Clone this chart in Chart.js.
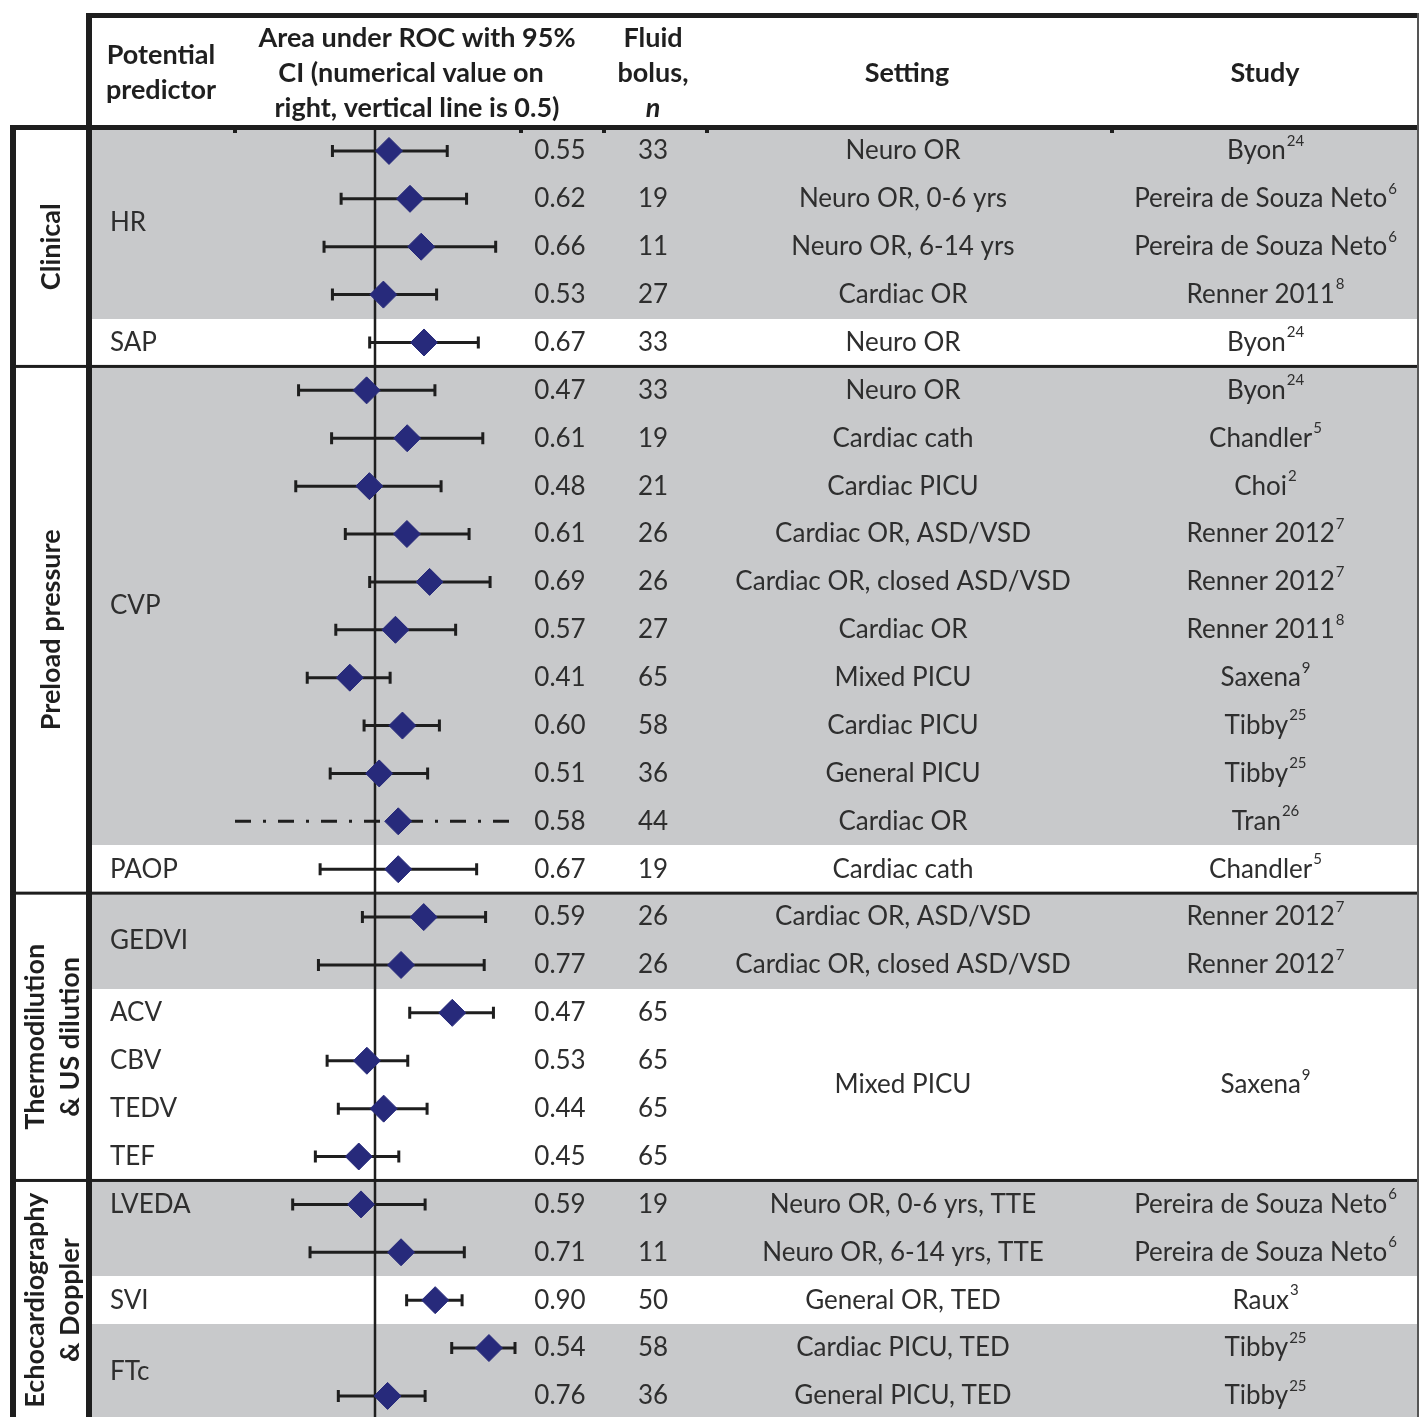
<!DOCTYPE html>
<html><head><meta charset="utf-8">
<script src="https://cdn.jsdelivr.net/npm/chart.js@4/dist/chart.umd.min.js"></script>
<style>html,body{margin:0;padding:0;background:#fff}canvas{display:block}</style>
</head><body>
<canvas id="c" width="1419" height="1417"></canvas>
<script>
// ---------------- DATA ----------------
const predictors = ['HR','HR','HR','HR','SAP',
  'CVP','CVP','CVP','CVP','CVP','CVP','CVP','CVP','CVP','CVP','PAOP',
  'GEDVI','GEDVI','ACV','CBV','TEDV','TEF',
  'LVEDA','LVEDA','SVI','FTc','FTc'];
// plotted AUC (diamond) and 95% CI
const aucPoint = [0.55,0.625,0.665,0.53,0.675,
  0.47,0.615,0.48,0.614,0.695,0.573,0.41,0.598,0.515,0.583,0.583,
  0.674,0.593,0.776,0.471,0.531,0.442,
  0.45,0.593,0.715,0.907,0.545];
const ciLow = [0.348,0.379,0.318,0.348,0.481,
  0.227,0.345,0.217,0.394,0.481,0.36,0.258,0.461,0.34,0.0,0.304,
  0.455,0.298,0.624,0.329,0.369,0.287,
  0.206,0.268,0.613,0.774,0.369];
const ciHigh = [0.758,0.827,0.931,0.72,0.869,
  0.714,0.885,0.736,0.836,0.911,0.788,0.554,0.73,0.688,0.985,0.863,
  0.895,0.89,0.923,0.617,0.686,0.585,
  0.679,0.819,0.811,1.0,0.679];
const ciNotReported = [false,false,false,false,false,
  false,false,false,false,false,false,false,false,false,true,false,
  false,false,false,false,false,false,
  false,false,false,false,false];
// numerical values printed on the right
const aucLabels = ['0.55','0.62','0.66','0.53','0.67',
  '0.47','0.61','0.48','0.61','0.69','0.57','0.41','0.60','0.51','0.58','0.67',
  '0.59','0.77','0.47','0.53','0.44','0.45',
  '0.59','0.71','0.90','0.54','0.76'];
const bolusN = [33,19,11,27,33,
  33,19,21,26,26,27,65,58,36,44,19,
  26,26,65,65,65,65,
  19,11,50,58,36];
const settings = ['Neuro OR','Neuro OR, 0-6 yrs','Neuro OR, 6-14 yrs','Cardiac OR','Neuro OR',
  'Neuro OR','Cardiac cath','Cardiac PICU','Cardiac OR, ASD/VSD','Cardiac OR, closed ASD/VSD','Cardiac OR','Mixed PICU','Cardiac PICU','General PICU','Cardiac OR','Cardiac cath',
  'Cardiac OR, ASD/VSD','Cardiac OR, closed ASD/VSD','Mixed PICU','Mixed PICU','Mixed PICU','Mixed PICU',
  'Neuro OR, 0-6 yrs, TTE','Neuro OR, 6-14 yrs, TTE','General OR, TED','Cardiac PICU, TED','General PICU, TED'];
const studyNames = ['Byon','Pereira de Souza Neto','Pereira de Souza Neto','Renner 2011','Byon',
  'Byon','Chandler','Choi','Renner 2012','Renner 2012','Renner 2011','Saxena','Tibby','Tibby','Tran','Chandler',
  'Renner 2012','Renner 2012','Saxena','Saxena','Saxena','Saxena',
  'Pereira de Souza Neto','Pereira de Souza Neto','Raux','Tibby','Tibby'];
const studyRefs = ['24','6','6','8','24',
  '24','5','2','7','7','8','9','25','25','26','5',
  '7','7','9','9','9','9',
  '6','6','3','25','25'];
const mergedRows = [[18,21]];           // setting/study cells merged
const groupLabels = [['Clinical'],['Preload pressure'],['Thermodilution','& US dilution'],['Echocardiography','& Doppler']];
const groupRowCounts = [5,11,6,5];
const headerPredictor = ['Potential','predictor'];
const headerAuc = ['Area under ROC with 95%','CI (numerical value on','right, vertical line is 0.5)'];
const headerBolus = ['Fluid','bolus,','n'];
const headerSetting = 'Setting';
const headerStudy = 'Study';
const referenceValue = 0.5;

// ---------------- STYLE ----------------
const shadedPredictors = ['HR','CVP','GEDVI','LVEDA','FTc'];
const labelAtFirstRow = ['LVEDA'];
const FONT = 'Lato, "Open Sans", sans-serif';
const BAND = '#c8c9cb';
const INK = '#1e1e1e';
const TXT = '#2e2e2e';
const HEAD = '#1f1f1f';
const DIAMOND = '#272a7b';

const tablePlugin = {
  id: 'table',
  beforeDatasetsDraw(chart) {
    const ctx = chart.ctx;
    const xs = chart.scales.x, ys = chart.scales.y;
    const W = chart.width, H = chart.height;
    const yp = v => ys.getPixelForValue(v);
    const n = predictors.length;
    ctx.save();
    ctx.fillStyle = '#fff';
    ctx.fillRect(0, 0, W, H);
    // bands
    ctx.fillStyle = BAND;
    for (let i = 0; i < n; i++) {
      if (shadedPredictors.includes(predictors[i])) {
        const t = Math.round(yp(i - 0.5)), b = Math.round(yp(i + 0.5));
        ctx.fillRect(92, t, W - 92, b - t);
      }
    }
    const text = (s, x, y, font, align, color) => {
      ctx.font = font; ctx.textAlign = align || 'left'; ctx.textBaseline = 'middle';
      ctx.fillStyle = color || TXT; ctx.fillText(s, x, y);
    };
    const bodyFont = '26px ' + FONT;
    const boldFont = 'bold 27px ' + FONT;
    const supFont = '15px ' + FONT;
    // predictor labels
    let s = 0;
    while (s < n) {
      let e = s;
      while (e + 1 < n && predictors[e + 1] === predictors[s]) e++;
      const r = labelAtFirstRow.includes(predictors[s]) ? s : (s + e) / 2;
      text(predictors[s], 110, yp(r), bodyFont);
      s = e + 1;
    }
    // values, n
    for (let i = 0; i < n; i++) {
      text(aucLabels[i], 560, yp(i), bodyFont, 'center');
      text(String(bolusN[i]), 653, yp(i), bodyFont, 'center');
    }
    // settings & studies
    const study = (name, ref, cx, y) => {
      ctx.font = bodyFont; const w1 = ctx.measureText(name).width;
      ctx.font = supFont; const w2 = ctx.measureText(ref).width;
      const x0 = cx - (w1 + w2) / 2;
      text(name, x0, y, bodyFont, 'left');
      text(ref, x0 + w1 + 1, y - 10, supFont, 'left');
    };
    for (let i = 0; i < n; i++) {
      const m = mergedRows.find(r => i >= r[0] && i <= r[1]);
      if (m && i !== m[0]) continue;
      const r = m ? (m[0] + m[1]) / 2 : i;
      text(settings[i], 903, yp(r), bodyFont, 'center');
      study(studyNames[i], studyRefs[i], 1265, yp(r));
    }
    // header
    headerPredictor.forEach((t, k) => text(t, 161, 55 + k * 35, boldFont, 'center', HEAD));
    const ax = [417, 411, 417];
    headerAuc.forEach((t, k) => text(t, ax[k], 38 + k * 35, boldFont, 'center', HEAD));
    text(headerBolus[0], 653, 38, boldFont, 'center', HEAD);
    text(headerBolus[1], 653, 73, boldFont, 'center', HEAD);
    text(headerBolus[2], 653, 108, 'italic bold 27px ' + FONT, 'center', HEAD);
    text(headerSetting, 907, 73, boldFont, 'center', HEAD);
    text(headerStudy, 1265, 73, boldFont, 'center', HEAD);
    // group labels (rotated)
    let start = 0;
    groupLabels.forEach((lines, g) => {
      const end = start + groupRowCounts[g] - 1;
      const cy = yp((start + end) / 2);
      ctx.save();
      ctx.translate(0, cy);
      ctx.rotate(-Math.PI / 2);
      const xs0 = lines.length === 1 ? [51] : [35, 70];
      lines.forEach((t, k) => text(t, 0, xs0[k], boldFont, 'center', HEAD));
      ctx.restore();
      start = end + 1;
    });
    // reference line
    const xr = xs.getPixelForValue(referenceValue);
    ctx.fillStyle = INK;
    ctx.fillRect(xr - 1.25, 128, 2.5, H - 128);
    // CI bars
    ctx.strokeStyle = INK;
    for (let i = 0; i < n; i++) {
      const y = yp(i);
      const x1 = xs.getPixelForValue(ciLow[i]), x2 = xs.getPixelForValue(ciHigh[i]);
      ctx.lineWidth = 3;
      if (ciNotReported[i]) ctx.setLineDash([16, 12, 3, 12]); else ctx.setLineDash([]);
      ctx.beginPath(); ctx.moveTo(x1, y); ctx.lineTo(x2, y); ctx.stroke();
      ctx.setLineDash([]);
      if (!ciNotReported[i]) {
        ctx.beginPath();
        ctx.moveTo(x1, y - 6); ctx.lineTo(x1, y + 6);
        ctx.moveTo(x2, y - 6); ctx.lineTo(x2, y + 6);
        ctx.stroke();
      }
    }
    // borders
    ctx.fillStyle = INK;
    ctx.fillRect(86, 13, W - 86, 5);          // header top
    ctx.fillRect(86, 13, 6, H - 13);          // main left border
    ctx.fillRect(10, 125, W - 10, 5);         // header bottom
    ctx.fillRect(10, 125, 6, H - 125);        // group column left
    let acc = 0;
    groupRowCounts.slice(0, -1).forEach(c => {
      acc += c;
      const y = yp(acc - 0.5);
      ctx.fillRect(10, y - 1.5, W - 10, 3);
    });
    ctx.fillStyle = '#555';
    ctx.fillRect(W - 2, 13, 2, H - 13);
    ctx.fillStyle = INK;
    [235, 521, 604, 707, 1112].forEach(x => ctx.fillRect(x - 2, 129, 4, 4));
    ctx.restore();
  }
};

new Chart(document.getElementById('c'), {
  type: 'scatter',
  data: {
    datasets: [{
      data: aucPoint.map((v, i) => ({ x: v, y: i })),
      pointStyle: 'rectRot',
      pointRadius: 13.5,
      pointBorderWidth: 1,
      backgroundColor: DIAMOND,
      borderColor: DIAMOND,
      clip: false
    }]
  },
  options: {
    responsive: false,
    animation: false,
    devicePixelRatio: 1,
    layout: { autoPadding: false, padding: { left: 235, right: 904, top: 127, bottom: 0 } },
    scales: {
      x: { type: 'linear', min: 0, max: 1, display: false },
      y: { type: 'linear', min: -0.5, max: 26.44, reverse: true, display: false }
    },
    plugins: { legend: { display: false }, tooltip: { enabled: false } }
  },
  plugins: [tablePlugin]
});
</script>
</body></html>
